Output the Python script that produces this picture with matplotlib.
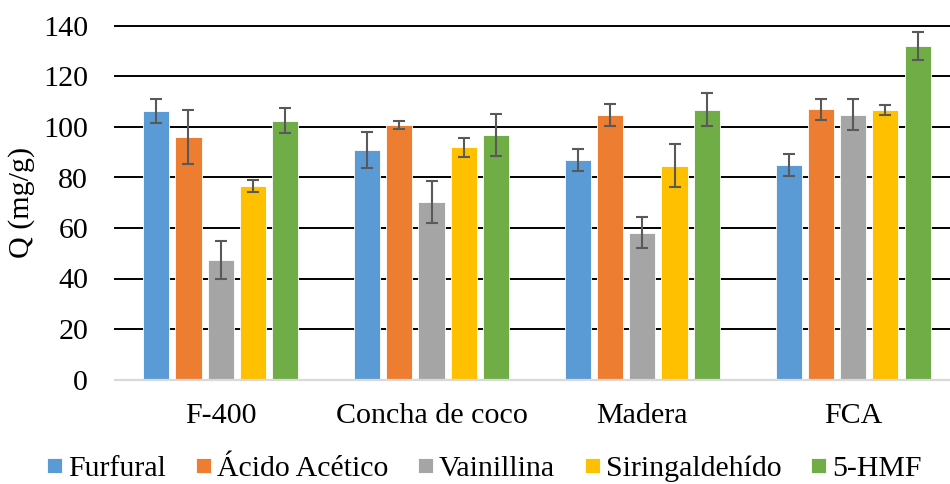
import matplotlib
matplotlib.use("Agg")
import matplotlib.pyplot as plt
import numpy as np

plt.rcParams['font.family'] = ['Liberation Serif', 'DejaVu Serif']

groups = ["F-400", "Concha de coco", "Madera", "FCA"]
series = ["Furfural", "Ácido Acético", "Vainillina", "Siringaldehído", "5-HMF"]
colors = ["#5B9BD5", "#ED7D31", "#A5A5A5", "#FFC000", "#70AD47"]

furfural = [106.4, 90.9, 86.9, 84.9]
acetico = [96.0, 100.8, 104.8, 107.0]
vainillina = [47.3, 70.3, 58.2, 104.9]
siringaldehido = [76.8, 91.9, 84.7, 106.7]
hmf = [102.5, 96.9, 106.9, 132.1]

furfural_err = [4.7, 7.0, 4.4, 4.4]
acetico_err = [10.8, 1.5, 4.3, 4.1]
vainillina_err = [7.5, 8.3, 6.3, 6.1]
siringaldehido_err = [2.4, 3.8, 8.6, 2.0]
hmf_err = [4.9, 8.2, 6.6, 5.6]

values = [furfural, acetico, vainillina, siringaldehido, hmf]
errors = [furfural_err, acetico_err, vainillina_err, siringaldehido_err, hmf_err]

yticks = [0, 20, 40, 60, 80, 100, 120, 140]

fig = plt.figure(figsize=(9.5, 4.84), dpi=100)
ax = fig.add_axes([115.3 / 950, (484 - 379.5) / 484, (958.5 - 115.3) / 950, (379.5 - 26) / 484])

x = np.arange(len(groups))
pitch = 0.153
width = 0.124
for i, (vals, errs, col, name) in enumerate(zip(values, errors, colors, series)):
    pos = x + (i - 2) * pitch
    ax.bar(pos, vals, width=width, color=col, edgecolor="#FFFFFF", linewidth=0.6,
           label=name, zorder=2)
    ax.errorbar(pos, vals, yerr=errs, fmt="none", ecolor="#595959", elinewidth=1.5,
                capsize=4.5, capthick=1.5, zorder=3)

for t in yticks[1:]:
    ax.axhline(t, color="black", linewidth=1.4, zorder=1, clip_on=False)
ax.axhline(0, color="#D9D9D9", linewidth=1.6, zorder=4, clip_on=False)

ax.set_xlim(-0.5, 3.5)
ax.set_ylim(0, 140)
ax.set_yticks(yticks)
ax.set_xticks(x)
ax.set_xticklabels(groups)
for s in ax.spines.values():
    s.set_visible(False)
ax.tick_params(axis="both", length=0, labelsize=21.6)
ax.tick_params(axis="y", pad=19.5)
ax.tick_params(axis="x", pad=17)
ax.set_ylabel("Q (mg/g)", fontsize=21.6, labelpad=6)

fig.legend(loc="center", bbox_to_anchor=(0.51, (484 - 469) / 484),
           ncol=5, frameon=False, fontsize=21.5, handlelength=0.5, handleheight=0.4,
           handletextpad=0.2, columnspacing=1.0, borderaxespad=0, borderpad=0)

fig.savefig("out.png", dpi=100)
